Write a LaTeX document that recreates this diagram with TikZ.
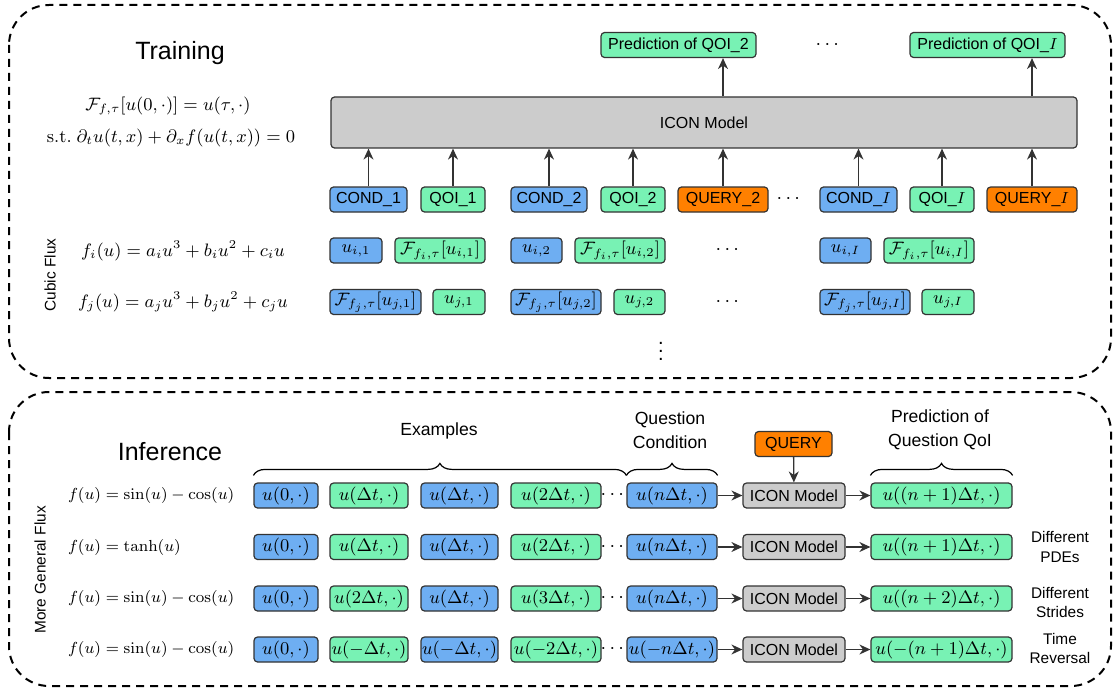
\documentclass[tikz,border=0pt]{standalone}
\usepackage[no-math]{fontspec}
\setmainfont{Liberation Sans}
\usepackage{amsmath}
\usetikzlibrary{arrows.meta,decorations.pathreplacing}

\definecolor{condblue}{HTML}{6EAEF2}
\definecolor{qoigreen}{HTML}{78F2B4}
\definecolor{queryorange}{HTML}{FF8000}
\definecolor{modelgray}{HTML}{CCCCCC}
\definecolor{edgegray}{HTML}{333333}

\tikzset{
  cell/.style={draw=edgegray, line width=0.6pt, rounded corners=1.8pt, minimum height=12.5pt,
    inner sep=0pt, font=\fontsize{8}{9.6}\selectfont},
  condbox/.style={cell, fill=condblue, minimum width=#1},
  qoibox/.style={cell, fill=qoigreen, minimum width=#1},
  querybox/.style={cell, fill=queryorange, minimum width=#1},
  modelbox/.style={cell, fill=modelgray, minimum width=#1},
  mathcell/.style={font=\fontsize{8.7}{10}\selectfont},
  feed/.style={draw=edgegray, line width=0.65pt, -{Stealth[length=5.5pt,width=5pt]}},
  panel/.style={draw=black, line width=1pt, dash pattern=on 4pt off 3pt, rounded corners=20pt},
  sidenote/.style={font=\fontsize{7.7}{9.6}\selectfont, align=center},
  bracenote/.style={font=\fontsize{8.8}{12}\selectfont, align=center},
  heading/.style={font=\fontsize{12.5}{15}\selectfont},
  eqn/.style={font=\fontsize{9}{11}\selectfont},
  fluxeqn/.style={font=\fontsize{8.4}{10}\selectfont, anchor=west},
  topbrace/.style={decorate, decoration={brace, amplitude=6pt}, line width=0.6pt, draw=black},
}

\begin{document}
\begin{tikzpicture}[x=0.5pt,y=-0.5pt]
  \useasboundingbox (0,0) rectangle (1114,690);

  % training
  \draw[panel] (9,5) rectangle (1111,378);
  \node[heading] (trainTitle) at (180,53) {Training};
  \node[eqn] (solOp) at (168,106) {$\mathcal{F}_{f,\tau}[u(0,\cdot)] = u(\tau,\cdot)$};
  \node[eqn] (pdeEq) at (171,138) {$\mathrm{s.t.}\ \partial_t u(t,x) + \partial_x f(u(t,x)) = 0$};

  \node[modelbox=373pt, minimum height=25.5pt] (icon) at (704,122.5) {ICON Model};
  \node[qoibox=77.5pt] (predTwo) at (678.5,45) {Prediction of QOI\_2};
  \node (predDots) at (829,45) {$\cdots$};
  \node[qoibox=77.5pt] (predI) at (987.5,45) {Prediction of QOI\_$I$};

  \node[condbox=38.5pt] (condA) at (368.5,199.5) {COND\_1};
  \node[qoibox=32pt] (qoiA) at (453,199.5) {QOI\_1};
  \node[condbox=38pt] (condB) at (549,199.5) {COND\_2};
  \node[qoibox=32pt] (qoiB) at (633,199.5) {QOI\_2};
  \node[querybox=45pt] (queryB) at (723,199.5) {QUERY\_2};
  \node (rowDots) at (790,199.5) {$\cdots$};
  \node[condbox=38.5pt] (condI) at (858.5,199.5) {COND\_$I$};
  \node[qoibox=32pt] (qoiI) at (942,199.5) {QOI\_$I$};
  \node[querybox=45pt] (queryI) at (1032,199.5) {QUERY\_$I$};

  \foreach \n in {condA,qoiA,condB,qoiB,queryB,condI,qoiI,queryI}
    \draw[feed] (\n.north) -- (\n.north |- icon.south);
  \draw[feed] (queryB.north |- icon.north) -- (queryB.north |- predTwo.south);
  \draw[feed] (queryI.north |- icon.north) -- (queryI.north |- predI.south);

  \node[sidenote, rotate=90] (cubicLbl) at (50,275) {Cubic Flux};
  \node[eqn] (fluxI) at (183,251) {$f_i(u) = a_i u^3 + b_i u^2 + c_i u$};
  \node[eqn] (fluxJ) at (183,302) {$f_j(u) = a_j u^3 + b_j u^2 + c_j u$};

  \node[condbox=26pt, mathcell] (uiA) at (356,250.5) {$u_{i,1}$};
  \node[qoibox=45pt, mathcell] (FiA) at (440,250.5) {$\mathcal{F}_{f_i,\tau}[u_{i,1}]$};
  \node[condbox=25.5pt, mathcell] (uiB) at (536.5,250.5) {$u_{i,2}$};
  \node[qoibox=45pt, mathcell] (FiB) at (620,250.5) {$\mathcal{F}_{f_i,\tau}[u_{i,2}]$};
  \node (iDots) at (729,250.5) {$\cdots$};
  \node[condbox=25.5pt, mathcell] (uiI) at (845.5,250.5) {$u_{i,I}$};
  \node[qoibox=45pt, mathcell] (FiI) at (929,250.5) {$\mathcal{F}_{f_i,\tau}[u_{i,I}]$};

  \node[condbox=45.5pt, mathcell] (FjA) at (375.5,302) {$\mathcal{F}_{f_j,\tau}[u_{j,1}]$};
  \node[qoibox=26pt, mathcell] (ujA) at (459,302) {$u_{j,1}$};
  \node[condbox=45pt, mathcell] (FjB) at (556,302) {$\mathcal{F}_{f_j,\tau}[u_{j,2}]$};
  \node[qoibox=25.5pt, mathcell] (ujB) at (639.5,302) {$u_{j,2}$};
  \node (jDots) at (729,302) {$\cdots$};
  \node[condbox=45pt, mathcell] (FjI) at (865,302) {$\mathcal{F}_{f_j,\tau}[u_{j,I}]$};
  \node[qoibox=26pt, mathcell] (ujI) at (948,302) {$u_{j,I}$};
  \node (moreDots) at (661,345) {$\vdots$};

  % inference
  \draw[panel] (9,392) rectangle (1111,686);
  \node[heading] (inferTitle) at (170,452) {Inference};
  \node[sidenote, rotate=90] (generalLbl) at (40,570) {More General Flux};

  \node[fluxeqn] (flux1) at (61,495.5) {$f(u) = \sin(u) - \cos(u)$};
  \node[fluxeqn] (flux2) at (61,547) {$f(u) = \tanh(u)$};
  \node[fluxeqn] (flux3) at (61,598.5) {$f(u) = \sin(u) - \cos(u)$};
  \node[fluxeqn] (flux4) at (61,649.5) {$f(u) = \sin(u) - \cos(u)$};

  \node[querybox=38.5pt] (query) at (793.5,444) {QUERY};

  \node[condbox=32pt, mathcell] (r1a) at (286,495.5) {$u(0,\cdot)$};
  \node[qoibox=39pt, mathcell] (r1b) at (369,495.5) {$u(\Delta t,\cdot)$};
  \node[condbox=38.5pt, mathcell] (r1c) at (459.5,495.5) {$u(\Delta t,\cdot)$};
  \node[qoibox=45pt, mathcell] (r1d) at (556,495.5) {$u(2\Delta t,\cdot)$};
  \node (r1dots) at (614,495.5) {$\cdots$};
  \node[condbox=45pt, mathcell] (r1q) at (672,495.5) {$u(n\Delta t,\cdot)$};
  \node[modelbox=51pt] (r1m) at (794,495.5) {ICON Model};
  \node[qoibox=70.5pt, mathcell] (r1p) at (941.5,495.5) {$u((n+1)\Delta t,\cdot)$};

  \node[condbox=32pt, mathcell] (r2a) at (286,547) {$u(0,\cdot)$};
  \node[qoibox=39pt, mathcell] (r2b) at (369,547) {$u(\Delta t,\cdot)$};
  \node[condbox=38.5pt, mathcell] (r2c) at (459.5,547) {$u(\Delta t,\cdot)$};
  \node[qoibox=45pt, mathcell] (r2d) at (556,547) {$u(2\Delta t,\cdot)$};
  \node (r2dots) at (614,547) {$\cdots$};
  \node[condbox=45pt, mathcell] (r2q) at (672,547) {$u(n\Delta t,\cdot)$};
  \node[modelbox=51pt] (r2m) at (794,547) {ICON Model};
  \node[qoibox=70.5pt, mathcell] (r2p) at (941.5,547) {$u((n+1)\Delta t,\cdot)$};

  \node[condbox=32pt, mathcell] (r3a) at (286,598.5) {$u(0,\cdot)$};
  \node[qoibox=39pt, mathcell] (r3b) at (369,598.5) {$u(2\Delta t,\cdot)$};
  \node[condbox=38.5pt, mathcell] (r3c) at (459.5,598.5) {$u(\Delta t,\cdot)$};
  \node[qoibox=45pt, mathcell] (r3d) at (556,598.5) {$u(3\Delta t,\cdot)$};
  \node (r3dots) at (614,598.5) {$\cdots$};
  \node[condbox=45pt, mathcell] (r3q) at (672,598.5) {$u(n\Delta t,\cdot)$};
  \node[modelbox=51pt] (r3m) at (794,598.5) {ICON Model};
  \node[qoibox=70.5pt, mathcell] (r3p) at (941.5,598.5) {$u((n+2)\Delta t,\cdot)$};

  \node[condbox=32pt, mathcell] (r4a) at (286,649.5) {$u(0,\cdot)$};
  \node[qoibox=39pt, mathcell] (r4b) at (369,649.5) {$u(-\Delta t,\cdot)$};
  \node[condbox=38.5pt, mathcell] (r4c) at (459.5,649.5) {$u(-\Delta t,\cdot)$};
  \node[qoibox=45pt, mathcell] (r4d) at (556,649.5) {$u(-2\Delta t,\cdot)$};
  \node (r4dots) at (614,649.5) {$\cdots$};
  \node[condbox=45pt, mathcell] (r4q) at (672,649.5) {$u(-n\Delta t,\cdot)$};
  \node[modelbox=51pt] (r4m) at (794,649.5) {ICON Model};
  \node[qoibox=70.5pt, mathcell] (r4p) at (941.5,649.5) {$u(-(n+1)\Delta t,\cdot)$};

  \draw[feed] (query) -- (r1m);
  \foreach \r in {r1,r2,r3,r4} {
    \draw[feed] (\r q) -- (\r m);
    \draw[feed] (\r m) -- (\r p);
  }

  \draw[topbrace] ([yshift=3.5pt]r1a.north west) -- ([yshift=3.5pt]r1q.north west);
  \draw[topbrace] ([yshift=3.5pt]r1q.north west) -- ([yshift=3.5pt]r1q.north east);
  \draw[topbrace] ([yshift=3.5pt]r1p.north west) -- ([yshift=3.5pt]r1p.north east);
  \node[bracenote] (exLbl) at (439,431) {Examples};
  \node[bracenote] (condLbl) at (670,430) {Question\\Condition};
  \node[bracenote] (predLbl) at (940,430) {Prediction of\\Question QoI};

  \node[sidenote] (pdeNote) at (1060,547) {Different\\PDEs};
  \node[sidenote] (strideNote) at (1060,602.5) {Different\\Strides};
  \node[sidenote] (timeNote) at (1060,648.5) {Time\\Reversal};
\end{tikzpicture}
\end{document}
